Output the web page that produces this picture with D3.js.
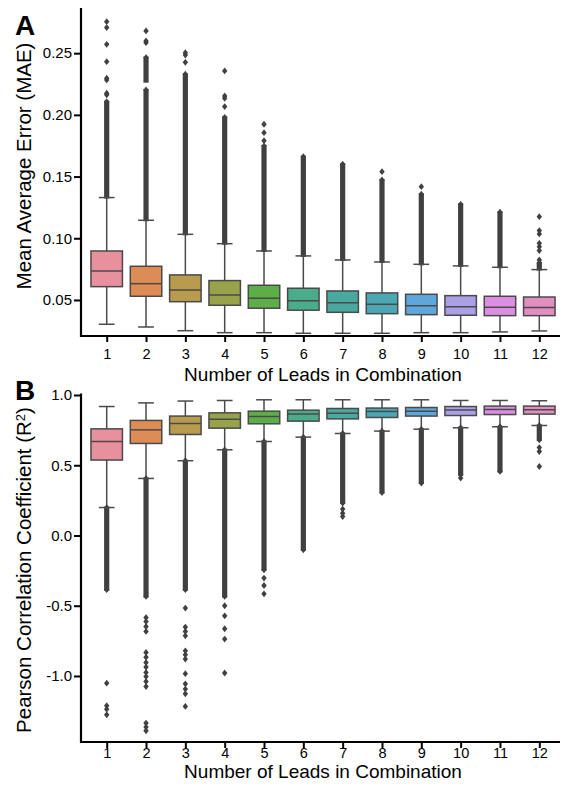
<!DOCTYPE html>
<html>
<head>
<meta charset="utf-8">
<script src="https://cdn.jsdelivr.net/npm/d3@7"></script>
<style>
  body { margin: 0; background: #fff; }
  text { font-family: "Liberation Sans", Arial, Helvetica, sans-serif; fill: #000; }
</style>
</head>
<body>
<div id="chart"></div>
<script>
// categories
var leads = ['1', '2', '3', '4', '5', '6', '7', '8', '9', '10', '11', '12'];

// panel A - mean average error, box stats per lead count
var maeLow    = [0.0303, 0.0281, 0.0251, 0.0235, 0.0235, 0.0230, 0.0230, 0.0230, 0.0235, 0.0235, 0.0241, 0.0249];
var maeQ1     = [0.0608, 0.0530, 0.0486, 0.0457, 0.0433, 0.0417, 0.0400, 0.0389, 0.0381, 0.0376, 0.0373, 0.0373];
var maeMedian = [0.0735, 0.0632, 0.0581, 0.0541, 0.0514, 0.0494, 0.0478, 0.0465, 0.0454, 0.0446, 0.0441, 0.0438];
var maeQ3     = [0.0897, 0.0773, 0.0703, 0.0657, 0.0619, 0.0595, 0.0573, 0.0557, 0.0546, 0.0535, 0.0530, 0.0524];
var maeHigh   = [0.1330, 0.1146, 0.1032, 0.0956, 0.0897, 0.0857, 0.0824, 0.0808, 0.0789, 0.0776, 0.0765, 0.0746];
// dense columns of outliers [from, to]
var maeOutlierRuns = [
  [[0.1330, 0.2107]],
  [[0.1146, 0.2202], [0.2269, 0.2464]],
  [[0.1032, 0.2329]],
  [[0.0956, 0.1980]],
  [[0.0897, 0.1748]],
  [[0.0857, 0.1661]],
  [[0.0824, 0.1600]],
  [[0.0808, 0.1472]],
  [[0.0789, 0.1357]],
  [[0.0776, 0.1275]],
  [[0.0765, 0.1211]],
  [[0.0746, 0.0800]]
];
// single outliers
var maeOutliers = [
  [0.2755, 0.2707, 0.2572, 0.2431, 0.2297, 0.2283, 0.2175, 0.2162],
  [0.2680, 0.2599, 0.2585],
  [0.2504, 0.2485, 0.2426],
  [0.2356, 0.2153, 0.2134, 0.2067],
  [0.1924, 0.1856, 0.1791],
  [],
  [],
  [0.1540],
  [0.1418],
  [],
  [],
  [0.1175, 0.1062, 0.1035, 0.0959, 0.0932, 0.0900, 0.0824]
];
var maeTicks = [0.05, 0.10, 0.15, 0.20, 0.25];
var maeTickLabels = ['0.05', '0.10', '0.15', '0.20', '0.25'];

// panel B - pearson correlation
var r2Low    = [0.199, 0.406, 0.532, 0.610, 0.669, 0.700, 0.726, 0.743, 0.757, 0.767, 0.774, 0.783];
var r2Q1     = [0.537, 0.655, 0.719, 0.764, 0.795, 0.814, 0.830, 0.840, 0.850, 0.854, 0.861, 0.864];
var r2Median = [0.669, 0.752, 0.797, 0.828, 0.847, 0.864, 0.871, 0.883, 0.885, 0.893, 0.897, 0.895];
var r2Q3     = [0.759, 0.819, 0.850, 0.873, 0.885, 0.892, 0.904, 0.907, 0.911, 0.918, 0.921, 0.921];
var r2High   = [0.918, 0.944, 0.957, 0.961, 0.966, 0.966, 0.966, 0.966, 0.966, 0.961, 0.961, 0.959];
var r2OutlierRuns = [
  [[-0.386, 0.199]],
  [[-0.434, 0.406]],
  [[-0.386, 0.532]],
  [[-0.434, 0.610]],
  [[-0.244, 0.669]],
  [[-0.102, 0.700]],
  [[0.231, 0.726]],
  [[0.306, 0.743]],
  [[0.373, 0.757]],
  [[0.432, 0.767]],
  [[0.456, 0.774]],
  [[0.680, 0.783]]
];
var r2Outliers = [
  [-1.051, -1.212, -1.236, -1.276],
  [-0.584, -0.612, -0.648, -0.683, -0.833, -0.866, -0.904, -0.937, -0.975, -1.004, -1.039, -1.075, -1.335, -1.364, -1.390],
  [-0.517, -0.652, -0.683, -0.714, -0.821, -0.849, -0.880, -0.984, -1.056, -1.093, -1.127, -1.217],
  [-0.500, -0.572, -0.664, -0.737, -0.979],
  [-0.303, -0.356, -0.415],
  [],
  [0.188, 0.159, 0.135],
  [],
  [],
  [0.409],
  [],
  [0.626, 0.598, 0.491]
];
var r2Ticks = [-1.0, -0.5, 0.0, 0.5, 1.0];
var r2TickLabels = ['-1.0', '-0.5', '0.0', '0.5', '1.0'];

// husl palette, desaturated like seaborn boxes
var boxColors = ['#e8909e', '#de8c55', '#b89b4d', '#97a24a', '#5dad48', '#4aac8b',
                 '#4aa99e', '#4ca7b4', '#5ea7dc', '#ab9fe6', '#dc8ee2', '#e38ec0'];

var width = 564,
    height = 794,
    edgeColor = '#4a4a4a',
    flierColor = '#404040';

var svg = d3.select('#chart').append('svg')
  .attr('width', width)
  .attr('height', height);

var x = d3.scalePoint()
  .domain(leads)
  .range([106.7, 539.3]);
var boxWidth = x.step() * 0.8;

function drawPanel(p) {
  var y = d3.scaleLinear().domain(p.domain).range(p.range);
  var g = svg.append('g');

  // y axis
  var yAxis = d3.axisLeft(y)
    .tickValues(p.ticks)
    .tickFormat(function(d, i) { return p.tickLabels[i]; })
    .tickSize(7)
    .tickPadding(2);
  var yg = g.append('g')
    .attr('transform', 'translate(81,0)')
    .call(yAxis);
  yg.select('.domain').remove();
  yg.selectAll('line').attr('stroke', '#000').attr('stroke-width', 2);
  yg.selectAll('text').style('font-size', '15px').attr('fill', '#000');

  // x axis
  var xAxis = d3.axisBottom(x)
    .tickSize(6)
    .tickPadding(p.xPad);
  var xg = g.append('g')
    .attr('transform', 'translate(0,' + p.range[0] + ')')
    .call(xAxis);
  xg.select('.domain').remove();
  xg.selectAll('line').attr('stroke', '#000').attr('stroke-width', 2);
  xg.selectAll('text').style('font-size', '14.5px').attr('fill', '#000');

  // axis lines
  g.append('path')
    .attr('d', 'M81,' + p.range[1] + 'V' + p.range[0] + 'H560')
    .attr('fill', 'none')
    .attr('stroke', '#000')
    .attr('stroke-width', 2.2);

  // boxes
  var boxes = g.selectAll('.box')
    .data(leads)
    .enter()
    .append('g')
    .attr('class', 'box')
    .attr('transform', function(d) { return 'translate(' + x(d) + ',0)'; });

  // whiskers
  boxes.append('line')
    .attr('y1', function(d, i) { return y(p.low[i]); })
    .attr('y2', function(d, i) { return y(p.q1[i]); })
    .attr('stroke', edgeColor).attr('stroke-width', 1.5);
  boxes.append('line')
    .attr('y1', function(d, i) { return y(p.q3[i]); })
    .attr('y2', function(d, i) { return y(p.high[i]); })
    .attr('stroke', edgeColor).attr('stroke-width', 1.5);

  // outlier columns
  boxes.each(function(d, i) {
    var b = d3.select(this);
    b.selectAll('.run')
      .data(p.runs[i])
      .enter()
      .append('rect')
      .attr('x', -2.6)
      .attr('width', 5.2)
      .attr('y', function(r) { return y(r[1]) - 1; })
      .attr('height', function(r) { return y(r[0]) - y(r[1]) + 2; })
      .attr('fill', flierColor);
    b.selectAll('.tip')
      .data(p.runs[i].map(function(r) { return r[1]; }).concat(p.points[i]))
      .enter()
      .append('path')
      .attr('d', 'M0,-3.4L2.7,0L0,3.4L-2.7,0Z')
      .attr('transform', function(v) { return 'translate(0,' + y(v) + ')'; })
      .attr('fill', flierColor);
    if (p.runs[i][0][0] < p.low[i]) {
      b.append('path')
        .attr('d', 'M0,-3.4L2.7,0L0,3.4L-2.7,0Z')
        .attr('transform', 'translate(0,' + y(p.runs[i][0][0]) + ')')
        .attr('fill', flierColor);
    }
  });

  // caps
  boxes.append('line')
    .attr('x1', -boxWidth / 4).attr('x2', boxWidth / 4)
    .attr('y1', function(d, i) { return y(p.low[i]); })
    .attr('y2', function(d, i) { return y(p.low[i]); })
    .attr('stroke', edgeColor).attr('stroke-width', 1.5);
  boxes.append('line')
    .attr('x1', -boxWidth / 4).attr('x2', boxWidth / 4)
    .attr('y1', function(d, i) { return y(p.high[i]); })
    .attr('y2', function(d, i) { return y(p.high[i]); })
    .attr('stroke', edgeColor).attr('stroke-width', 1.5);

  // box body
  boxes.append('rect')
    .attr('x', -boxWidth / 2)
    .attr('width', boxWidth)
    .attr('y', function(d, i) { return y(p.q3[i]); })
    .attr('height', function(d, i) { return y(p.q1[i]) - y(p.q3[i]); })
    .attr('fill', function(d, i) { return boxColors[i]; })
    .attr('stroke', edgeColor)
    .attr('stroke-width', 1.5);

  // median
  boxes.append('line')
    .attr('x1', -boxWidth / 2).attr('x2', boxWidth / 2)
    .attr('y1', function(d, i) { return y(p.median[i]); })
    .attr('y2', function(d, i) { return y(p.median[i]); })
    .attr('stroke', edgeColor).attr('stroke-width', 1.5);

  // titles
  g.append('text')
    .attr('x', 323)
    .attr('y', p.xTitleY)
    .attr('text-anchor', 'middle')
    .style('font-size', '19px')
    .text('Number of Leads in Combination');

  var yt = g.append('text')
    .attr('transform', 'translate(31,' + p.yTitleCenter + ') rotate(-90)')
    .attr('text-anchor', 'middle')
    .style('font-size', '20.5px');
  yt.append('tspan').text(p.yTitle);
  if (p.sup) {
    yt.append('tspan').attr('dy', '-0.45em').style('font-size', '13px').text(p.sup);
    yt.append('tspan').attr('dy', '0.3em').text(p.yTitleEnd);
  }

  g.append('text')
    .attr('x', 15)
    .attr('y', p.letterY)
    .style('font-size', '28px')
    .style('font-weight', 'bold')
    .text(p.letter);
}

drawPanel({
  domain: [0.0208, 0.2866], range: [336, 8],
  ticks: maeTicks, tickLabels: maeTickLabels,
  low: maeLow, q1: maeQ1, median: maeMedian, q3: maeQ3, high: maeHigh,
  runs: maeOutlierRuns, points: maeOutliers,
  xPad: 7, xTitleY: 381,
  yTitle: 'Mean Average Error (MAE)', yTitleCenter: 166,
  letter: 'A', letterY: 35
});

drawPanel({
  domain: [-1.47, 1.01], range: [742, 393.6],
  ticks: r2Ticks, tickLabels: r2TickLabels,
  low: r2Low, q1: r2Q1, median: r2Median, q3: r2Q3, high: r2High,
  runs: r2OutlierRuns, points: r2Outliers,
  xPad: 0, xTitleY: 778,
  yTitle: 'Pearson Correlation Coefficient (R', sup: '2', yTitleEnd: ')', yTitleCenter: 570,
  letter: 'B', letterY: 400
});
</script>
</body>
</html>
